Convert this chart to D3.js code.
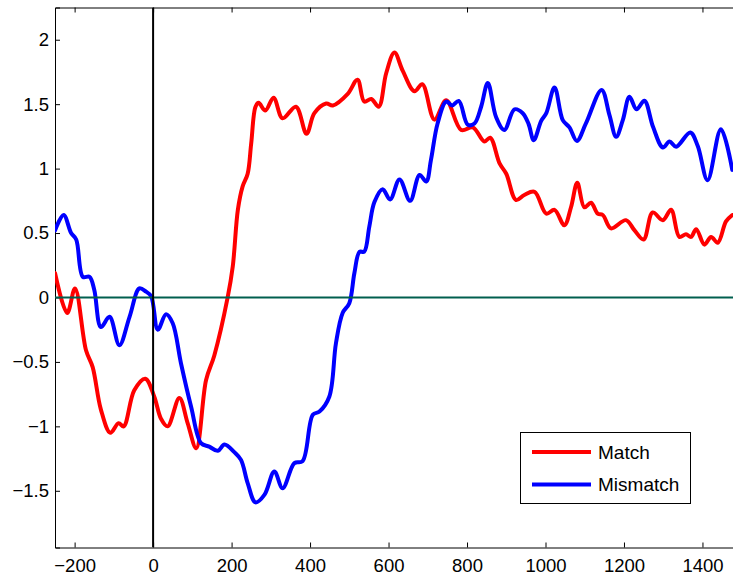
<!DOCTYPE html>
<html>
<head>
<meta charset="utf-8">
<script src="https://cdn.jsdelivr.net/npm/d3@7"></script>
<style>
  html, body { margin: 0; padding: 0; background: #fff; }
  svg { display: block; font-family: "Liberation Sans", Arial, Helvetica, sans-serif; }
</style>
</head>
<body>
<svg id="chart" width="733" height="581"></svg>
<script>
// Time (ms) and amplitude for the two conditions
const matchT = [-250,-219,-199,-171,-154,-133,-109,-88,-75,-48,-20,3,20,37,67,88,110,135,156,190,203,216,228,241,250,261,269,286,307,330,364,391,411,441,458,496,521,538,556,575,594,615,636,666,686,717,747,785,815,844,859,883,900,925,946,972,1002,1023,1048,1065,1081,1099,1116,1133,1146,1167,1205,1227,1250,1273,1299,1320,1341,1358,1371,1384,1405,1422,1439,1460,1476];
const matchV = [0.19,-0.12,0.07,-0.41,-0.54,-0.87,-1.05,-0.975,-1.0,-0.72,-0.63,-0.77,-0.94,-1.0,-0.78,-0.975,-1.17,-0.64,-0.45,0.0,0.24,0.68,0.86,0.96,1.195,1.48,1.51,1.45,1.55,1.39,1.48,1.27,1.43,1.505,1.49,1.58,1.69,1.52,1.54,1.48,1.74,1.90,1.76,1.60,1.655,1.38,1.53,1.30,1.32,1.21,1.24,1.04,0.96,0.756,0.795,0.82,0.65,0.68,0.56,0.70,0.89,0.70,0.735,0.65,0.64,0.536,0.60,0.52,0.45,0.66,0.60,0.68,0.47,0.49,0.47,0.53,0.41,0.47,0.425,0.59,0.64];

const mismatchT = [-250,-228,-209,-196,-179,-162,-150,-133,-111,-86,-60,-35,-18,-5,12,33,50,71,97,122,143,165,182,207,224,241,261,284,309,330,360,381,407,424,449,466,483,500,513,526,538,551,564,585,604,628,655,679,696,708,725,747,762,779,802,819,836,853,874,895,921,942,957,970,989,1002,1023,1044,1061,1080,1103,1143,1163,1180,1197,1214,1232,1252,1274,1299,1316,1333,1369,1388,1413,1447,1476];
const mismatchV = [0.52,0.64,0.50,0.45,0.16,0.16,0.06,-0.23,-0.15,-0.37,-0.15,0.07,0.045,0.01,-0.25,-0.13,-0.2,-0.51,-0.85,-1.13,-1.157,-1.19,-1.14,-1.20,-1.26,-1.44,-1.59,-1.53,-1.35,-1.48,-1.285,-1.27,-0.91,-0.885,-0.77,-0.355,-0.12,-0.045,0.19,0.355,0.355,0.55,0.74,0.84,0.76,0.916,0.75,0.95,0.90,1.066,1.35,1.52,1.49,1.525,1.34,1.35,1.48,1.665,1.40,1.30,1.46,1.43,1.345,1.22,1.37,1.43,1.63,1.376,1.32,1.215,1.35,1.61,1.415,1.247,1.376,1.557,1.46,1.526,1.324,1.164,1.21,1.17,1.28,1.175,0.91,1.306,0.99];

const seriesNames = ["Match", "Mismatch"];
const seriesColors = ["#ff0000", "#0000ff"];

const xTicks = [-200, 0, 200, 400, 600, 800, 1000, 1200, 1400];
const yTicks = [-1.5, -1, -0.5, 0, 0.5, 1, 1.5, 2];

const svg = d3.select("#chart");
const plotLeft = 55, plotTop = 7.5, plotBottom = 547.5;
const x = d3.scaleLinear().domain([-250, 1500]).range([plotLeft, plotLeft + 1750 * 0.3924]);
const y = d3.scaleLinear().domain([-1.94, 2.25]).range([plotBottom, plotTop]);

const fmt = v => (v < 0 ? "\u2212" : "") + String(Math.abs(v));

svg.append("defs").append("clipPath").attr("id", "plotClip")
  .append("rect").attr("x", plotLeft).attr("y", plotTop)
  .attr("width", x.range()[1] - plotLeft).attr("height", plotBottom - plotTop);

// Inward-pointing ticks on bottom, top and left edges
const tickLen = 5;
const xAxisB = d3.axisBottom(x).tickValues(xTicks).tickSize(-tickLen).tickPadding(11).tickFormat(fmt);
const xAxisT = d3.axisTop(x).tickValues(xTicks).tickSize(-tickLen).tickFormat("");
const yAxisL = d3.axisLeft(y).tickValues(yTicks).tickSize(-tickLen).tickPadding(6).tickFormat(fmt);

function styleAxis(g) {
  g.select(".domain").attr("stroke", "#000").attr("stroke-width", 1);
  g.selectAll(".tick line").attr("stroke", "#000").attr("stroke-width", 1);
  g.selectAll(".tick text").attr("fill", "#000").attr("font-size", 18.5)
    .attr("font-family", "Liberation Sans, Arial, sans-serif");
}

svg.append("g").attr("transform", `translate(0,${plotBottom})`).call(xAxisB).call(styleAxis);
svg.append("g").attr("transform", `translate(0,${plotTop})`).call(xAxisT).call(styleAxis);
svg.append("g").attr("transform", `translate(${plotLeft},0)`).call(yAxisL).call(styleAxis);

const plot = svg.append("g").attr("clip-path", "url(#plotClip)");

const line = d3.line().x(d => x(d[0])).y(d => y(d[1])).curve(d3.curveCatmullRom.alpha(0.5));
const series = [d3.zip(matchT, matchV), d3.zip(mismatchT, mismatchV)];

series.forEach((pts, i) => {
  plot.append("path").datum(pts)
    .attr("fill", "none").attr("stroke", seriesColors[i])
    .attr("stroke-width", 4).attr("stroke-linejoin", "round").attr("stroke-linecap", "round")
    .attr("d", line);
});

// Baseline at zero and stimulus onset at t = 0
plot.append("line").attr("x1", x(-250)).attr("x2", x(1500)).attr("y1", y(0)).attr("y2", y(0))
  .attr("stroke", "#005f4f").attr("stroke-width", 2);
plot.append("line").attr("x1", x(0)).attr("x2", x(0)).attr("y1", plotTop).attr("y2", plotBottom)
  .attr("stroke", "#000").attr("stroke-width", 2);

// Legend
const lg = svg.append("g").attr("transform", "translate(520.5,432.5)");
lg.append("rect").attr("width", 170).attr("height", 71)
  .attr("fill", "#fff").attr("stroke", "#000").attr("stroke-width", 1);
seriesNames.forEach((name, i) => {
  const ly = 19.5 + i * 32.5;
  lg.append("line").attr("x1", 11.5).attr("x2", 70.5).attr("y1", ly).attr("y2", ly)
    .attr("stroke", seriesColors[i]).attr("stroke-width", 4);
  lg.append("text").attr("x", 77.5).attr("y", ly).attr("dy", "0.35em")
    .attr("font-size", 19).attr("fill", "#000").text(name);
});
</script>
</body>
</html>
